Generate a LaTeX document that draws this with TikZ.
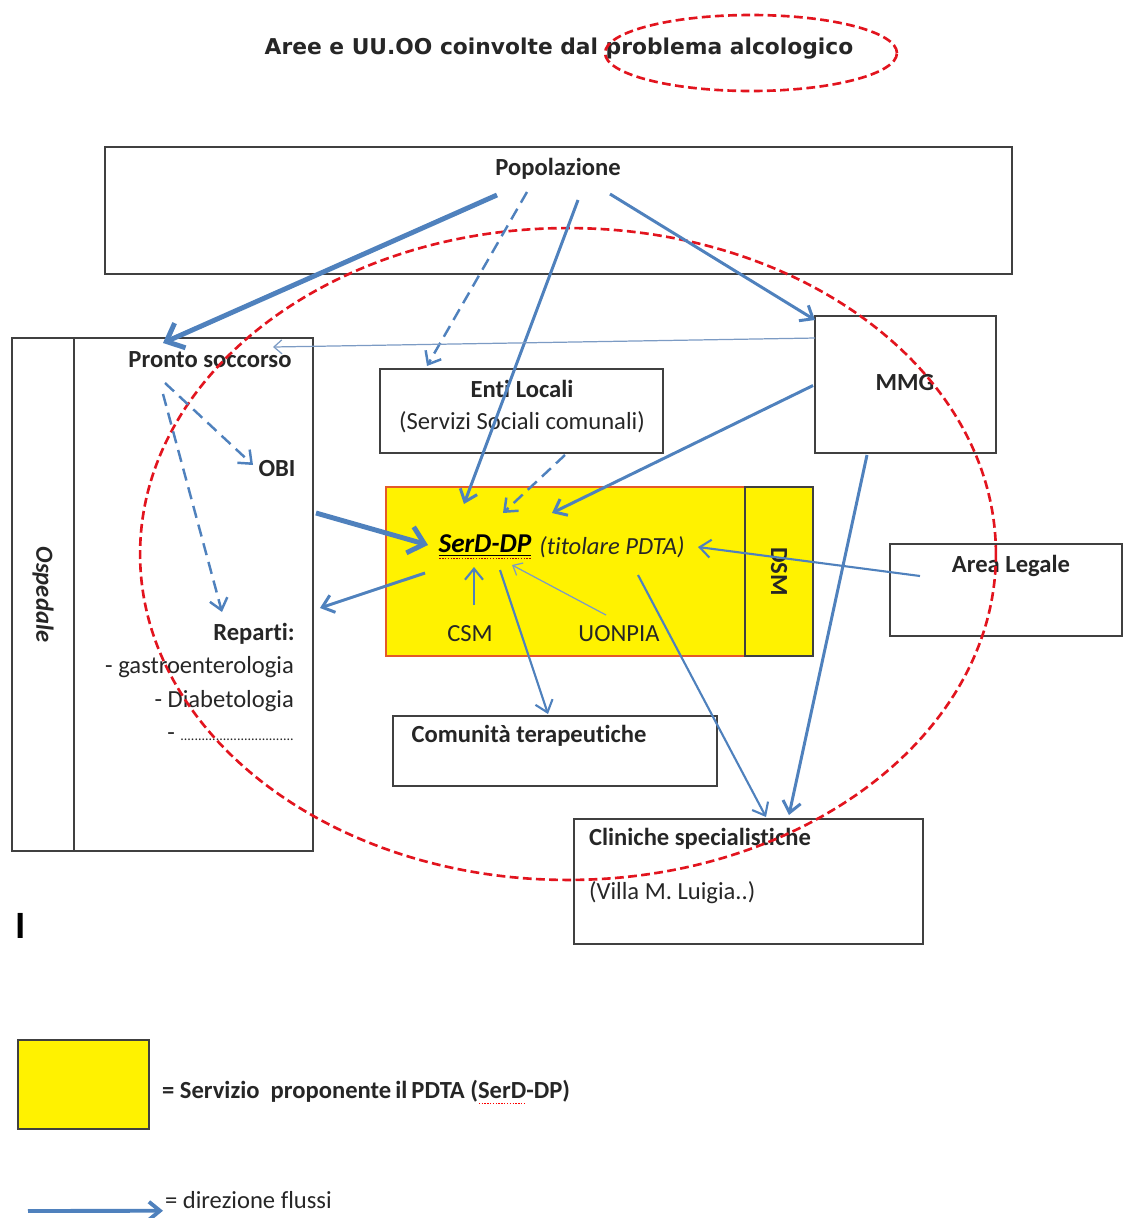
\documentclass[tikz,border=0pt]{standalone}
\usepackage{fontspec}
\setmainfont{Carlito}[Ligatures=NoCommon]
\newfontfamily\titlefont{DejaVu Sans}
\usetikzlibrary{arrows.meta, positioning, calc}

\definecolor{flussoblu}{RGB}{79,129,189}
\definecolor{flussochiaro}{RGB}{124,155,196}
\definecolor{rossotratto}{RGB}{226,20,30}
\definecolor{bordoserd}{RGB}{228,90,40}

\newsavebox\segnobox
\newcommand\redpunti[1]{\sbox\segnobox{#1}\rlap{\hbox to \wd\segnobox{\color{red}\leaders\hbox to 1.6pt{\hss\rule[-3pt]{0.8pt}{0.6pt}\hss}\hfill}}\usebox\segnobox}
\newcommand\redsotto[1]{\sbox\segnobox{#1}\rlap{\rule[-1.8pt]{\wd\segnobox}{0.7pt}}\rlap{\hbox to \wd\segnobox{\color{red!70!black}\leaders\hbox to 1.6pt{\hss\rule[-3.6pt]{0.8pt}{0.6pt}\hss}\hfill}}\usebox\segnobox}

\begin{document}
\begin{tikzpicture}[
  x=0.02cm, y=-0.02cm,
  box/.style={rectangle, draw=black!75, line width=0.8pt, inner sep=0pt, outer sep=0pt},
  txt/.style={inner sep=1pt, text=black!85, font=\fontsize{14}{17}\selectfont},
  btxt/.style={txt, font=\fontsize{14}{17}\selectfont\bfseries},
  arrow/.style={-{Straight Barb[length=2.2mm, width=3.6mm]}, line width=1.2pt, flussoblu},
  midarrow/.style={arrow, line width=1.7pt},
  thickarrow/.style={-{Straight Barb[length=3mm, width=5.4mm]}, line width=2.8pt, flussoblu},
  thinarrow/.style={-{Straight Barb[length=1.6mm, width=2.8mm]}, line width=0.7pt, flussochiaro},
  dasharrow/.style={arrow, line width=1.4pt, dash pattern=on 7pt off 4pt},
  area/.style={draw=rossotratto, line width=1.5pt, dash pattern=on 5pt off 2.5pt},
]
\useasboundingbox (0,0) rectangle (1124,1218);

% Titolo
\node[inner sep=0pt, text=black!85, font=\titlefont\bfseries\fontsize{12.4}{15}\selectfont] (titolo) at (559,49) {Aree e UU.OO coinvolte dal problema alcologico};
\draw[area] (751,53) ellipse [x radius=2.92cm, y radius=0.76cm];

% Popolazione
\node[box, minimum width=18.14cm, minimum height=2.54cm] (popbox) at (558.5,210.5) {};
\node[btxt] (pop) at (558,169) {Popolazione};

% Ospedale
\node[box, minimum width=6.02cm, minimum height=10.26cm] (ospbox) at (162.5,594.5) {};
\node[box, rotate=-90, minimum width=10.26cm, minimum height=1.24cm, text=black!85, font=\fontsize{14}{17}\selectfont\bfseries\itshape] (ospstrip) at (43,594.5) {Ospedale};
\node[btxt] (pronto) at (210,360) {Pronto soccorso};
\node[btxt] (obi) at (277,469) {OBI};
\node[btxt] (reparti) at (254,634) {Reparti:};
\node[txt, anchor=east] (gastro) at (296,667) {- gastroenterologia};
\node[txt, anchor=east] (diab) at (296,701) {- Diabetologia};
\node[txt, anchor=east] (altri) at (296,737) {- {\fontsize{8}{9}\selectfont ................................}};

% Enti locali
\node[box, minimum width=5.66cm, minimum height=1.68cm] (entibox) at (521.5,411) {};
\node[btxt] (enti) at (522,389) {Enti Locali};
\node[txt] (servizi) at (522,422) {(Servizi Sociali comunali)};

% MMG
\node[box, minimum width=3.62cm, minimum height=2.74cm] (mmgbox) at (905.5,384.5) {};
\node[btxt] (mmg) at (905,383) {MMG};

% SerD-DP
\node[box, fill=yellow, draw=bordoserd, minimum width=8.54cm, minimum height=3.38cm] (serdbox) at (599.5,571.5) {};
\node[box, rotate=-90, minimum width=3.38cm, minimum height=1.36cm, text=black!85, font=\fontsize{14}{17}\selectfont\bfseries] (dsm) at (779,571.5) {DSM};
\node[txt, text=black, font=\fontsize{15.5}{18}\selectfont\bfseries\itshape] (serd) at (485,547) {\redsotto{SerD-DP}};
\node[txt, font=\fontsize{14}{17}\selectfont\itshape] (titolare) at (612,547) {(titolare PDTA)};
\node[txt] (csm) at (470,634) {CSM};
\node[txt] (uonpia) at (619,634) {UONPIA};

% Area legale
\node[box, minimum width=4.64cm, minimum height=1.84cm] (legbox) at (1006,590) {};
\node[btxt] (area) at (1011,566) {Area Legale};

% Comunita' e cliniche
\node[box, minimum width=6.48cm, minimum height=1.4cm] (combox) at (555,751) {};
\node[btxt] (comun) at (529,736) {Comunità terapeutiche};
\node[box, minimum width=6.98cm, minimum height=2.5cm] (clinbox) at (748.5,881.5) {};
\node[btxt, anchor=west] (clin) at (587,839) {Cliniche specialistiche};
\node[txt, anchor=west] (villa) at (587,893) {(Villa M. Luigia..)};

% Area del problema
\draw[area] (568,554) ellipse [x radius=8.56cm, y radius=6.52cm];

% Flussi
\draw[thickarrow] ($(pop)+(-61,26)$) -- ($(pronto)+(-47,-17)$);
\draw[dasharrow] ($(pop)+(-31,23)$) -- ($(enti)+(-95,-23)$);
\draw[midarrow] ($(pop)+(20,31)$) -- ($(serd)+(-21,-43)$);
\draw[midarrow] ($(pop)+(52,25)$) -- ($(mmgbox.north west)+(0,4)$);
\draw[thinarrow] ($(mmgbox.north west)+(0,22)$) -- ($(pronto)+(63,-13)$);
\draw[midarrow] ($(mmgbox.west)+(-2,1)$) -- ($(serd)+(67,-34)$);
\draw[dasharrow] ($(servizi)+(43,33)$) -- ($(serd)+(18,-34)$);
\draw[dasharrow] ($(pronto)+(-45,23)$) -- ($(obi)+(-24,-4)$);
\draw[dasharrow] ($(pronto)+(-47,34)$) -- ($(reparti)+(-32,-22)$);
\draw[thickarrow] ($(ospbox.east)+(3,-81.5)$) -- ($(serd)+(-57,-2)$);
\draw[midarrow] ($(serd)+(-60,26)$) -- ($(ospbox.east)+(7,13.5)$);
\draw[arrow] ($(csm)+(4,-29)$) -- ($(serd)+(-11,20)$);
\draw[thinarrow] ($(uonpia)+(-13,-19)$) -- ($(serd)+(27,18)$);
\draw[arrow] ($(serd)+(15,23)$) -- ($(combox.north)+(-7,-2)$);
\draw[arrow] ($(titolare)+(26,28)$) -- ($(clinbox.north)+(17.5,-2)$);
\draw[midarrow] ($(mmgbox.south)+(-38.5,2)$) -- ($(clinbox.north)+(40.5,-4)$);
\draw[arrow] ($(area)+(-91,10)$) -- ($(titolare)+(86,0)$);

\node[txt, text=black, font=\fontsize{22}{26}\selectfont\bfseries] (cursore) at (21,926) {I};

% Legenda
\node[box, fill=yellow, minimum width=2.62cm, minimum height=1.78cm] (keybox) at (83.5,1084.5) {};
\node[btxt, anchor=west] (keyserd) at (160,1092) {= Servizio\ \ proponente\,il\,PDTA (\redpunti{SerD}-DP)};
\coordinate (keystart) at (28,1211);
\node[txt, anchor=west] (flussi) at (163,1200) {= direzione flussi};
\draw[midarrow, line width=2.2pt] (keystart) -- (flussi.south west);

\end{tikzpicture}
\end{document}
